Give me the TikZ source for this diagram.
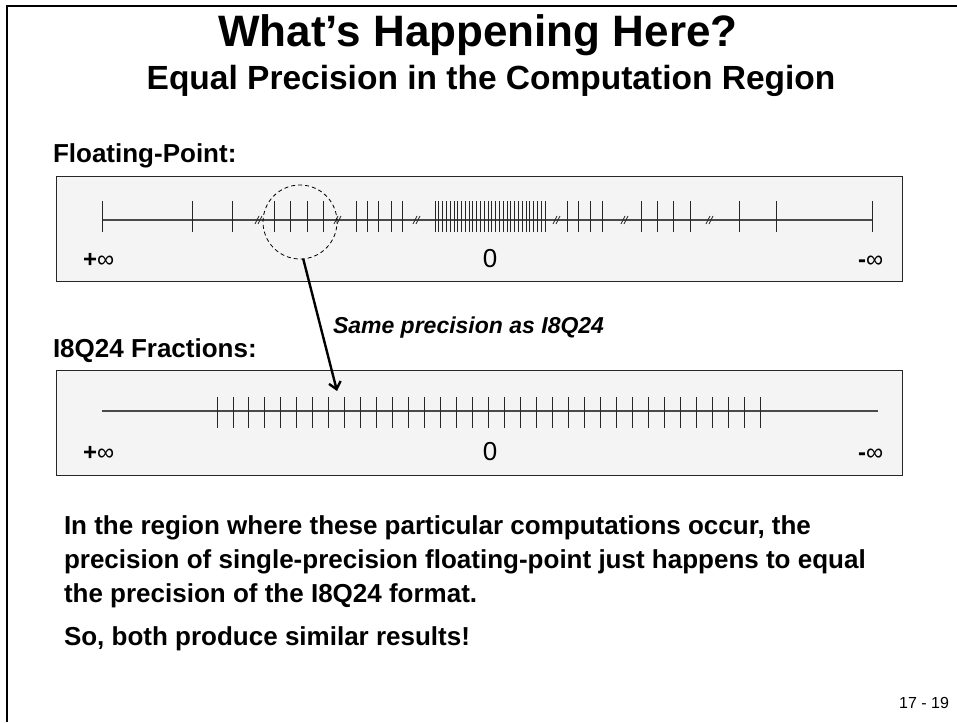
\documentclass[tikz,border=0pt]{standalone}
\usepackage{fontspec}
\setmainfont{Liberation Sans}
\usetikzlibrary{arrows.meta,calc}
\definecolor{PanelGray}{HTML}{F4F4F4}
\definecolor{AxisGray}{HTML}{4A4A4A}

\begin{document}
\begin{tikzpicture}[x=1pt,y=-1pt,every node/.style={inner sep=0pt,outer sep=0pt},
    panel/.style={draw=black!85,fill=PanelGray,line width=1pt,minimum width=846pt,minimum height=105pt,anchor=north west},
    axisline/.style={AxisGray,line width=1.3pt},
    tickmark/.style={black!85,line width=0.9pt},
    brkmark/.style={black!85,line width=0.8pt},
    rowlabel/.style={font=\fontsize{26}{30}\selectfont\bfseries,anchor=base west},
    endlabel/.style={font=\fontsize{24}{28}\selectfont,anchor=base west},
    zerolabel/.style={font=\fontsize{26}{30}\selectfont,anchor=base}]
    \useasboundingbox[fill=white] (0,0) rectangle (957,722);
    % slide frame
    \draw[line width=2.2pt] (7,722) -- (7,6) -- (957,6);
    \node[anchor=base,font=\fontsize{44}{50}\selectfont\bfseries] (title) at (478,47) {What’s Happening Here?};
    \node[anchor=base,font=\fontsize{33.5}{38}\selectfont\bfseries] (subtitle) at (491,90) {Equal Precision in the Computation Region};
    % floating-point line
    \node[rowlabel] (fplabel) at (53,163) {Floating-Point:};
    \node[panel] (fpbox) at (56,176) {};
    \draw[axisline] (102,220) -- (872,220);
    \foreach \x in {102,192,232,274,290,307,323,356,367,378,391,402,567,578,590,602,641,657,673,690,739,776,872}
      \draw[tickmark] (\x,201) -- (\x,232);
    \foreach \i in {0,...,29}
      \draw[tickmark] ({435+\i*3.793},201) -- ++(0,31);
    \foreach \x in {259,338,417,557,625,710}
      \draw[brkmark] (\x-4,224) -- (\x,216) (\x-1,224) -- (\x+3,216);
    \node[endlabel] (fpplus) at (83,267) {\textbf{+}∞};
    \node[zerolabel] (fpzero) at (490,267) {0};
    \node[endlabel] (fpminus) at (858,267) {\textbf{-}∞};
    \node[draw,circle,dash pattern=on 4pt off 3pt,line width=0.8pt,minimum size=74pt] (ring) at (300,222) {};
    % fixed-point line
    \node[rowlabel] (fxlabel) at (53,357) {I8Q24 Fractions:};
    \node[anchor=base west,font=\fontsize{23}{27}\selectfont\bfseries\itshape] (note) at (333,333) {Same precision as I8Q24};
    \node[panel] (fxbox) at (56,370) {};
    \draw[axisline] (102,411) -- (878,411);
    \foreach \i in {0,...,34}
      \draw[tickmark] ({217+\i*15.97},397) -- ++(0,31);
    \node[endlabel] (fxplus) at (83,460) {\textbf{+}∞};
    \node[zerolabel] (fxzero) at (490,460) {0};
    \node[endlabel] (fxminus) at (858,460) {\textbf{-}∞};
    \coordinate (hit) at (337,391);
    \draw[-{Straight Barb[length=7pt,width=12pt]},line width=2.4pt] (ring.-85) -- (hit);
    % text below
    \node[anchor=base west,align=left,font=\fontsize{26}{34}\selectfont\bfseries] (para) at (64,602) {In the region where these particular computations occur, the\\precision of single-precision floating-point just happens to equal\\the precision of the I8Q24 format.};
    \node[anchor=base west,font=\fontsize{26}{30}\selectfont\bfseries] (summary) at (64,645) {So, both produce similar results!};
    \node[anchor=base east,font=\fontsize{16}{19}\selectfont] (pagenum) at (949,708) {17 - 19};
\end{tikzpicture}
\end{document}
